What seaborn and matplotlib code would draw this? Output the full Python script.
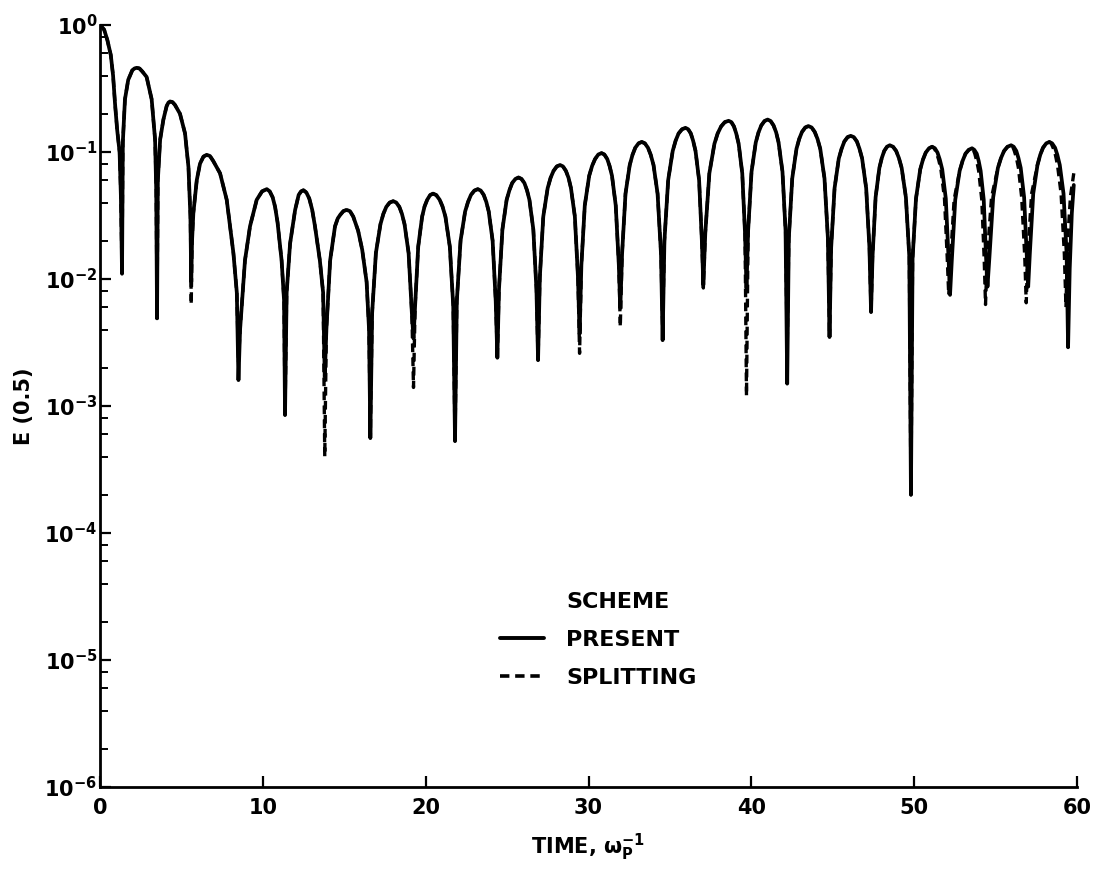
import math
import pandas as pd
import matplotlib
matplotlib.use("Agg")
import matplotlib.pyplot as plt
import matplotlib.ticker as mticker
from matplotlib.lines import Line2D
import seaborn as sns

# E(0.5), arch by arch (one line = one arch, ending at its minimum)
present_time = [
    0.00, 0.25, 0.45, 0.66, 0.80, 0.92, 1.05, 1.20, 1.28, 1.35,
    1.40, 1.53, 1.73, 1.98, 2.12, 2.25, 2.42, 2.60, 2.86, 3.17, 3.38, 3.45, 3.50,
    3.55, 3.69, 3.89, 4.09, 4.20, 4.30, 4.45, 4.60, 4.91, 5.22, 5.43, 5.55, 5.60,
    5.65, 5.73, 5.94, 6.14, 6.35, 6.55, 6.75, 6.95, 7.37, 7.78, 8.19, 8.40, 8.50,
    8.60, 8.90, 9.21, 9.62, 9.95, 10.24, 10.42, 10.60, 10.75, 10.90, 11.15, 11.30, 11.36,
    11.46, 11.67, 11.98, 12.20, 12.35, 12.49, 12.67, 12.85, 13.03, 13.20, 13.50, 13.70, 13.80,
    13.90, 14.13, 14.43, 14.60, 14.75, 14.95, 15.15, 15.35, 15.55, 15.85, 16.10, 16.37, 16.52, 16.60,
    16.71, 16.94, 17.22, 17.40, 17.58, 17.79, 18.00, 18.19, 18.38, 18.54, 18.70, 18.95, 19.15, 19.25,
    19.35, 19.54, 19.78, 19.93, 20.09, 20.27, 20.45, 20.65, 20.86, 21.03, 21.21, 21.48, 21.69, 21.80,
    21.91, 22.14, 22.42, 22.60, 22.78, 22.99, 23.20, 23.38, 23.56, 23.72, 23.87, 24.11, 24.30, 24.40,
    24.50, 24.71, 24.97, 25.14, 25.31, 25.51, 25.70, 25.88, 26.06, 26.22, 26.37, 26.61, 26.80, 26.90,
    27.01, 27.22, 27.49, 27.67, 27.85, 28.05, 28.25, 28.43, 28.61, 28.77, 28.92, 29.16, 29.35, 29.45,
    29.56, 29.77, 30.04, 30.22, 30.40, 30.60, 30.80, 30.97, 31.15, 31.29, 31.44, 31.67, 31.86, 31.95,
    32.06, 32.27, 32.53, 32.70, 32.87, 33.07, 33.27, 33.46, 33.65, 33.82, 33.99, 34.24, 34.45, 34.55,
    34.66, 34.89, 35.17, 35.35, 35.53, 35.74, 35.95, 36.12, 36.28, 36.42, 36.57, 36.79, 36.96, 37.05,
    37.17, 37.42, 37.73, 37.93, 38.14, 38.37, 38.60, 38.77, 38.93, 39.07, 39.22, 39.44, 39.61, 39.70,
    39.80, 40.01, 40.27, 40.44, 40.61, 40.81, 41.00, 41.18, 41.36, 41.52, 41.67, 41.91, 42.10, 42.20,
    42.30, 42.51, 42.77, 42.94, 43.11, 43.31, 43.50, 43.70, 43.89, 44.06, 44.23, 44.49, 44.70, 44.80,
    44.90, 45.11, 45.37, 45.54, 45.71, 45.91, 46.10, 46.29, 46.48, 46.64, 46.80, 47.05, 47.25, 47.35,
    47.44, 47.63, 47.86, 48.01, 48.16, 48.33, 48.50, 48.70, 48.89, 49.06, 49.23, 49.49, 49.70, 49.80,
    49.90, 50.11, 50.37, 50.54, 50.71, 50.91, 51.10, 51.27, 51.43, 51.57, 51.72, 51.94, 52.11, 52.20,
    52.31, 52.52, 52.79, 52.97, 53.15, 53.35, 53.55, 53.69, 53.84, 53.96, 54.08, 54.27, 54.42, 54.50,
    54.62, 54.85, 55.14, 55.33, 55.52, 55.73, 55.95, 56.11, 56.27, 56.40, 56.54, 56.75, 56.92, 57.00,
    57.10, 57.31, 57.57, 57.74, 57.91, 58.11, 58.30, 58.47, 58.65, 58.79, 58.94, 59.17, 59.36, 59.45,
    59.55, 59.68, 59.80,
]
present_e = [
    1.0, 0.92, 0.76, 0.58, 0.40, 0.24, 0.15, 0.10, 0.045, 0.011,
    0.12, 0.26, 0.37, 0.44, 0.455, 0.46, 0.455, 0.43, 0.39, 0.26, 0.125, 0.05, 0.0049,
    0.06, 0.125, 0.18, 0.23, 0.245, 0.25, 0.247, 0.235, 0.20, 0.14, 0.076, 0.031, 0.0095,
    0.02, 0.033, 0.06, 0.081, 0.092, 0.095, 0.093, 0.085, 0.068, 0.042, 0.016, 0.0078, 0.0016,
    0.004, 0.014, 0.026, 0.042, 0.049, 0.051, 0.049, 0.044, 0.037, 0.028, 0.014, 0.0068, 0.00085,
    0.0078, 0.019, 0.035, 0.046, 0.049, 0.050, 0.048, 0.043, 0.035, 0.026, 0.014, 0.0078, 0.0017,
    0.004, 0.014, 0.026, 0.030, 0.032, 0.0343, 0.035, 0.0342, 0.031, 0.024, 0.017, 0.0095, 0.004, 0.00056,
    0.0054, 0.016, 0.027, 0.0326, 0.037, 0.040, 0.041, 0.040, 0.037, 0.0326, 0.027, 0.016, 0.0054, 0.0034,
    0.0062, 0.018, 0.031, 0.0373, 0.042, 0.0458, 0.047, 0.0458, 0.042, 0.0373, 0.031, 0.018, 0.0062, 0.00053,
    0.0067, 0.020, 0.034, 0.0405, 0.046, 0.0497, 0.051, 0.0497, 0.046, 0.0405, 0.034, 0.020, 0.0067, 0.0024,
    0.0083, 0.0245, 0.042, 0.050, 0.057, 0.0614, 0.063, 0.0614, 0.057, 0.050, 0.042, 0.0245, 0.0083, 0.0023,
    0.0104, 0.031, 0.052, 0.0627, 0.071, 0.077, 0.079, 0.077, 0.071, 0.0627, 0.052, 0.031, 0.0104, 0.0037,
    0.0129, 0.038, 0.065, 0.0778, 0.088, 0.0956, 0.098, 0.0956, 0.088, 0.0778, 0.065, 0.038, 0.0129, 0.0059,
    0.0158, 0.047, 0.079, 0.095, 0.108, 0.117, 0.120, 0.117, 0.108, 0.095, 0.079, 0.047, 0.0158, 0.0033,
    0.020, 0.060, 0.102, 0.123, 0.140, 0.151, 0.155, 0.151, 0.140, 0.123, 0.102, 0.060, 0.020, 0.009,
    0.023, 0.068, 0.116, 0.140, 0.159, 0.172, 0.176, 0.172, 0.159, 0.140, 0.116, 0.068, 0.023, 0.0085,
    0.024, 0.070, 0.119, 0.143, 0.162, 0.1755, 0.180, 0.1755, 0.162, 0.143, 0.119, 0.070, 0.024, 0.0015,
    0.021, 0.062, 0.106, 0.127, 0.144, 0.156, 0.160, 0.156, 0.144, 0.127, 0.106, 0.062, 0.021, 0.0035,
    0.0177, 0.052, 0.089, 0.106, 0.121, 0.131, 0.134, 0.131, 0.121, 0.106, 0.089, 0.052, 0.0177, 0.0055,
    0.0149, 0.044, 0.075, 0.0897, 0.102, 0.110, 0.113, 0.110, 0.102, 0.0897, 0.075, 0.044, 0.0149, 0.0002,
    0.0145, 0.043, 0.073, 0.0873, 0.099, 0.107, 0.110, 0.107, 0.099, 0.0873, 0.073, 0.043, 0.0145, 0.0075,
    0.0141, 0.042, 0.071, 0.085, 0.097, 0.104, 0.107, 0.104, 0.097, 0.085, 0.071, 0.042, 0.0141, 0.0087,
    0.0149, 0.044, 0.075, 0.0897, 0.102, 0.110, 0.113, 0.110, 0.102, 0.0897, 0.075, 0.044, 0.0149, 0.0087,
    0.0158, 0.047, 0.079, 0.095, 0.108, 0.117, 0.120, 0.117, 0.108, 0.095, 0.079, 0.047, 0.0158, 0.0029,
    0.012, 0.033, 0.055,
]

split_time = [
    0.00, 0.25, 0.45, 0.66, 0.80, 0.92, 1.05, 1.20, 1.28, 1.35,
    1.40, 1.53, 1.73, 1.98, 2.12, 2.25, 2.42, 2.60, 2.86, 3.17, 3.38, 3.45, 3.50,
    3.55, 3.69, 3.89, 4.09, 4.20, 4.30, 4.45, 4.60, 4.91, 5.22, 5.43, 5.55, 5.60,
    5.65, 5.73, 5.94, 6.14, 6.35, 6.55, 6.75, 6.95, 7.37, 7.78, 8.19, 8.40, 8.50,
    8.60, 8.90, 9.21, 9.62, 9.95, 10.24, 10.42, 10.60, 10.75, 10.90, 11.15, 11.30, 11.36,
    11.46, 11.67, 11.98, 12.20, 12.35, 12.49, 12.67, 12.85, 13.03, 13.20, 13.50, 13.70, 13.80,
    13.90, 14.13, 14.43, 14.60, 14.75, 14.95, 15.15, 15.35, 15.55, 15.85, 16.10, 16.37, 16.52, 16.60,
    16.71, 16.94, 17.22, 17.40, 17.58, 17.79, 18.00, 18.19, 18.38, 18.54, 18.70, 18.95, 19.15, 19.25,
    19.35, 19.54, 19.78, 19.93, 20.09, 20.27, 20.45, 20.65, 20.86, 21.03, 21.21, 21.48, 21.69, 21.80,
    21.91, 22.14, 22.42, 22.60, 22.78, 22.99, 23.20, 23.38, 23.56, 23.72, 23.87, 24.11, 24.30, 24.40,
    24.50, 24.71, 24.97, 25.14, 25.31, 25.51, 25.70, 25.88, 26.06, 26.22, 26.37, 26.61, 26.80, 26.90,
    27.01, 27.22, 27.49, 27.67, 27.85, 28.05, 28.25, 28.43, 28.61, 28.77, 28.92, 29.16, 29.35, 29.45,
    29.56, 29.77, 30.04, 30.22, 30.40, 30.60, 30.80, 30.97, 31.15, 31.29, 31.44, 31.67, 31.86, 31.95,
    32.06, 32.27, 32.53, 32.70, 32.87, 33.07, 33.27, 33.46, 33.65, 33.82, 33.99, 34.24, 34.45, 34.55,
    34.66, 34.89, 35.17, 35.35, 35.53, 35.74, 35.95, 36.12, 36.28, 36.42, 36.57, 36.79, 36.96, 37.05,
    37.17, 37.42, 37.73, 37.93, 38.14, 38.37, 38.60, 38.77, 38.93, 39.07, 39.22, 39.44, 39.61, 39.70,
    39.80, 40.01, 40.27, 40.44, 40.61, 40.81, 41.00, 41.18, 41.36, 41.52, 41.67, 41.91, 42.10, 42.20,
    42.30, 42.51, 42.77, 42.94, 43.11, 43.31, 43.50, 43.70, 43.89, 44.06, 44.23, 44.49, 44.70, 44.80,
    44.90, 45.11, 45.37, 45.54, 45.71, 45.91, 46.10, 46.29, 46.48, 46.64, 46.80, 47.05, 47.25, 47.35,
    47.44, 47.63, 47.86, 48.01, 48.16, 48.33, 48.50, 48.70, 48.89, 49.06, 49.23, 49.49, 49.70, 49.80,
    49.90, 50.11, 50.37, 50.54, 50.71, 50.91, 51.10, 51.23, 51.36, 51.50, 51.64, 51.86, 52.03, 52.12,
    52.23, 52.45, 52.79, 52.97, 53.15, 53.35, 53.55, 53.63, 53.72, 53.84, 53.96, 54.15, 54.30, 54.38,
    54.48, 54.75, 55.14, 55.33, 55.52, 55.73, 55.95, 56.05, 56.15, 56.28, 56.40, 56.60, 56.79, 56.88,
    56.98, 57.21, 57.57, 57.74, 57.91, 58.11, 58.30, 58.41, 58.53, 58.67, 58.80, 59.02, 59.22, 59.32,
    59.42, 59.60, 59.80,
]
split_e = [
    1.0, 0.92, 0.76, 0.58, 0.40, 0.24, 0.15, 0.10, 0.045, 0.011,
    0.12, 0.26, 0.37, 0.44, 0.455, 0.46, 0.455, 0.43, 0.39, 0.26, 0.125, 0.05, 0.0049,
    0.06, 0.125, 0.18, 0.23, 0.245, 0.25, 0.247, 0.235, 0.20, 0.14, 0.076, 0.031, 0.0063,
    0.02, 0.033, 0.06, 0.081, 0.092, 0.095, 0.093, 0.085, 0.068, 0.042, 0.016, 0.0078, 0.0022,
    0.004, 0.014, 0.026, 0.042, 0.049, 0.051, 0.049, 0.044, 0.037, 0.028, 0.014, 0.0068, 0.00085,
    0.0078, 0.019, 0.035, 0.046, 0.049, 0.050, 0.048, 0.043, 0.035, 0.026, 0.014, 0.0078, 0.0004,
    0.004, 0.014, 0.026, 0.030, 0.032, 0.0343, 0.035, 0.0342, 0.031, 0.024, 0.017, 0.0095, 0.004, 0.00056,
    0.0054, 0.016, 0.027, 0.0326, 0.037, 0.040, 0.041, 0.040, 0.037, 0.0326, 0.027, 0.016, 0.0054, 0.0014,
    0.0062, 0.018, 0.031, 0.0373, 0.042, 0.0458, 0.047, 0.0458, 0.042, 0.0373, 0.031, 0.018, 0.0062, 0.00053,
    0.0067, 0.020, 0.034, 0.0405, 0.046, 0.0497, 0.051, 0.0497, 0.046, 0.0405, 0.034, 0.020, 0.0067, 0.0024,
    0.0083, 0.0245, 0.042, 0.050, 0.057, 0.0614, 0.063, 0.0614, 0.057, 0.050, 0.042, 0.0245, 0.0083, 0.0023,
    0.0104, 0.031, 0.052, 0.0627, 0.071, 0.077, 0.079, 0.077, 0.071, 0.0627, 0.052, 0.031, 0.0104, 0.0026,
    0.0129, 0.038, 0.065, 0.0778, 0.088, 0.0956, 0.098, 0.0956, 0.088, 0.0778, 0.065, 0.038, 0.0129, 0.0042,
    0.0158, 0.047, 0.079, 0.095, 0.108, 0.117, 0.120, 0.117, 0.108, 0.095, 0.079, 0.047, 0.0158, 0.004,
    0.020, 0.060, 0.102, 0.123, 0.140, 0.151, 0.155, 0.151, 0.140, 0.123, 0.102, 0.060, 0.020, 0.0085,
    0.023, 0.068, 0.116, 0.140, 0.159, 0.172, 0.176, 0.172, 0.159, 0.140, 0.116, 0.068, 0.023, 0.0012,
    0.024, 0.070, 0.119, 0.143, 0.162, 0.1755, 0.180, 0.1755, 0.162, 0.143, 0.119, 0.070, 0.024, 0.0028,
    0.021, 0.062, 0.106, 0.127, 0.144, 0.156, 0.160, 0.156, 0.144, 0.127, 0.106, 0.062, 0.021, 0.0035,
    0.0177, 0.052, 0.089, 0.106, 0.121, 0.131, 0.134, 0.131, 0.121, 0.106, 0.089, 0.052, 0.0177, 0.0055,
    0.0149, 0.044, 0.075, 0.0897, 0.102, 0.110, 0.113, 0.110, 0.102, 0.0897, 0.075, 0.044, 0.0149, 0.0002,
    0.0145, 0.043, 0.073, 0.0873, 0.099, 0.107, 0.110, 0.107, 0.099, 0.0873, 0.073, 0.043, 0.0145, 0.0075,
    0.0141, 0.042, 0.071, 0.085, 0.097, 0.104, 0.107, 0.104, 0.097, 0.085, 0.071, 0.042, 0.0141, 0.0063,
    0.0149, 0.044, 0.075, 0.0897, 0.102, 0.110, 0.113, 0.110, 0.102, 0.0897, 0.075, 0.044, 0.0149, 0.0065,
    0.0158, 0.047, 0.079, 0.095, 0.108, 0.117, 0.120, 0.117, 0.108, 0.095, 0.079, 0.047, 0.0158, 0.006,
    0.02, 0.045, 0.068,
]

x_ticks = [0, 10, 20, 30, 40, 50, 60]
y_ticks = [1e-6, 1e-5, 1e-4, 1e-3, 1e-2, 1e-1, 1e0]

present = pd.DataFrame({"time": present_time, "E": present_e})
split = pd.DataFrame({"time": split_time, "E": split_e})

sns.set_theme(style="ticks")
plt.rcParams["font.family"] = ["DejaVu Sans"]
plt.rcParams["font.weight"] = "bold"
plt.rcParams["text.color"] = "black"
plt.rcParams["axes.labelcolor"] = "black"
plt.rcParams["mathtext.fontset"] = "custom"
plt.rcParams["mathtext.rm"] = "DejaVu Sans:bold"
plt.rcParams["mathtext.bf"] = "DejaVu Sans:bold"
plt.rcParams["mathtext.it"] = "DejaVu Sans:bold"
plt.rcParams["mathtext.sf"] = "DejaVu Sans:bold"

fig = plt.figure(figsize=(10.97, 8.71), dpi=100)
ax = fig.add_axes([0.0912, 0.0964, 0.8906, 0.8749])

dash = (0, (2.6, 1.6))
sns.lineplot(data=split, x="time", y="E", ax=ax, color="black", lw=2.4,
             linestyle=dash, estimator=None, sort=False, zorder=2)
sns.lineplot(data=present, x="time", y="E", ax=ax, color="black", lw=2.7,
             estimator=None, sort=False, zorder=3)

ax.set_yscale("log")
ax.set_xlim(0, 60)
ax.set_ylim(1e-6, 1)
ax.set_xticks(x_ticks)
ax.xaxis.set_major_formatter(mticker.FormatStrFormatter("%d"))
ax.yaxis.set_major_locator(mticker.FixedLocator(y_ticks))
minor = [m * d for d in y_ticks[:-1] for m in (2, 4, 6, 8)]
ax.yaxis.set_minor_locator(mticker.FixedLocator(minor))
ax.yaxis.set_minor_formatter(mticker.NullFormatter())


def log_label(v, pos):
    return r"$\mathbf{10^{%d}}$" % round(math.log10(v))


ax.yaxis.set_major_formatter(mticker.FuncFormatter(log_label))

sns.despine(ax=ax)
for s in ["left", "bottom"]:
    ax.spines[s].set_linewidth(2.0)
    ax.spines[s].set_color("black")

ax.tick_params(axis="both", which="major", direction="in", length=8, width=1.6,
               labelsize=15, colors="black")
ax.tick_params(axis="y", which="minor", direction="in", length=5.5, width=1.4, colors="black")
ax.tick_params(axis="y", which="major", pad=2)
ax.tick_params(axis="x", which="major", pad=8)
ax.tick_params(axis="x", which="minor", bottom=False)

ax.set_xlabel(r"TIME, $\mathbf{\omega_P^{-1}}$", fontsize=15, fontweight="bold",
              labelpad=10, color="black")
ax.set_ylabel("E (0.5)", fontsize=15, fontweight="bold", color="black")
ax.yaxis.set_label_coords(-0.068, 0.5)

handles = [
    Line2D([], [], color="none", label="SCHEME"),
    Line2D([], [], color="black", lw=2.8, label="PRESENT"),
    Line2D([], [], color="black", lw=2.6, linestyle=dash, label="SPLITTING"),
]
leg = ax.legend(handles=handles, loc="center left", bbox_to_anchor=(0.409, 0.193),
                frameon=False, fontsize=16, handlelength=2.0, handletextpad=1.0,
                labelspacing=0.8, borderpad=0, borderaxespad=0)
for t in leg.get_texts():
    t.set_color("black")

fig.savefig("out.png", dpi=100, facecolor="white")
